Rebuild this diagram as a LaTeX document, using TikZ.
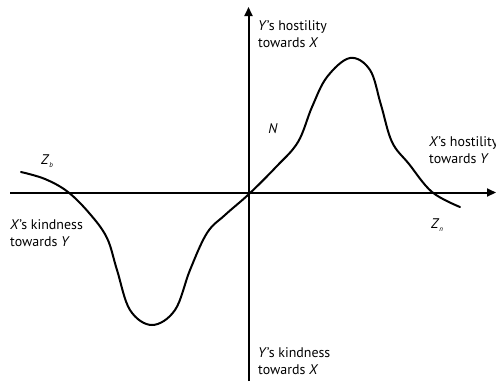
\documentclass[tikz,border=0pt]{standalone}
\usepackage{fontspec}
\setmainfont{PT Sans}
\usetikzlibrary{arrows.meta}
\tikzset{
  every node/.style={font=\fontsize{14}{17}\selectfont, inner sep=0pt},
  axis/.style={-{Triangle[length=9bp,width=8bp]}, line width=2bp, draw=black},
  curve/.style={line width=2bp, draw=black, line cap=round},
  lbl/.style={align=left, anchor=west},
  pt/.style={anchor=center}
}
\begin{document}
\begin{tikzpicture}[x=1bp, y=-1bp]
\useasboundingbox (0,0) rectangle (496,381);

% axes
\coordinate (o) at (248.5,192.5);
\coordinate (left) at (10,192.5);
\coordinate (right) at (496,192.5);
\coordinate (top) at (248.5,7);
\coordinate (bottom) at (248.5,381);
\draw[axis] (left) -- (right);
\draw[axis] (bottom) -- (top);

% the curve
\draw[curve] plot[smooth, tension=0.6] coordinates {
  (21,172) (45,179) (68,192) (90,214) (107,238) (117,270) (130,310)
  (152,325) (175,310) (190,270) (207,233) (225,215) (249,194)
  (276,167) (298,142) (312,107) (327,77) (350,58) (370,70)
  (381,105) (392,142) (409,164) (432,192) (460,207)};

% labels
\node[lbl] (yhost) at (258,34) {\textit{Y}'s hostility\\towards \textit{X}};
\node[lbl] (xhost) at (429,150.5) {\textit{X}'s hostility\\towards \textit{Y}};
\node[lbl] (xkind) at (10,233) {\textit{X}'s kindness\\towards \textit{Y}};
\node[lbl] (ykind) at (258,361) {\textit{Y}'s kindness\\towards \textit{X}};
\node[pt] (n) at (273,129) {\textit{N}};
\node[pt] (zb) at (47,161) {\textit{Z}\raisebox{-0.35ex}{\fontsize{7}{8}\selectfont\textit{b}}};
\node[pt] (zn) at (437,225) {\textit{Z}\raisebox{-0.35ex}{\fontsize{7}{8}\selectfont\textit{n}}};
\end{tikzpicture}
\end{document}
